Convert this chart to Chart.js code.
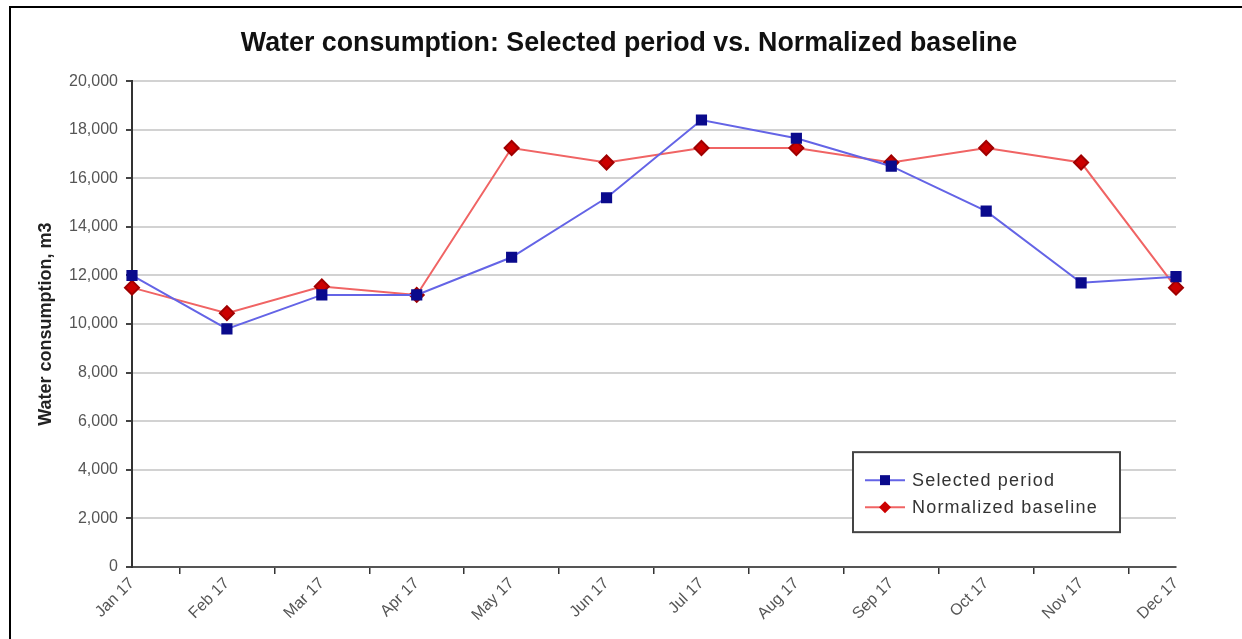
<!DOCTYPE html>
<html>
<head>
<meta charset="utf-8">
<script src="https://cdn.jsdelivr.net/npm/chart.js@4/dist/chart.umd.min.js"></script>
<style>
  html, body { margin: 0; padding: 0; background: #fff; overflow: hidden; }
  #frame { position: absolute; left: 9px; top: 6px; width: 1300px; height: 700px;
           border-top: 2px solid #000; border-left: 2px solid #000; }
  #chart { position: absolute; left: 0; top: 0; }
</style>
</head>
<body>
<div id="frame"></div>
<canvas id="chart" width="1242" height="639"></canvas>
<script>
const months = ["Jan 17", "Feb 17", "Mar 17", "Apr 17", "May 17", "Jun 17",
                "Jul 17", "Aug 17", "Sep 17", "Oct 17", "Nov 17", "Dec 17"];
const selectedPeriod = [12000, 9800, 11200, 11200, 12750, 15200, 18400, 17650, 16500, 14650, 11700, 11950];
const normalizedBaseline = [11500, 10450, 11550, 11200, 17250, 16650, 17250, 17250, 16650, 17250, 16650, 11500];
const yTicks = [0, 2000, 4000, 6000, 8000, 10000, 12000, 14000, 16000, 18000, 20000];

const font = "'Liberation Sans', Arial, sans-serif";

// legend box drawn inside the plot area, bottom right
const boxLegend = {
  id: "boxLegend",
  afterDraw(chart) {
    const ctx = chart.ctx;
    const area = chart.chartArea;
    const x = area.right - 323, y = area.top + 371, w = 267, h = 80;
    ctx.save();
    ctx.fillStyle = "#fff";
    ctx.fillRect(x, y, w, h);
    ctx.strokeStyle = "#444";
    ctx.lineWidth = 2;
    ctx.strokeRect(x, y, w, h);
    ctx.font = "18px " + font;
    ctx.letterSpacing = "1.2px";
    ctx.textBaseline = "middle";
    chart.data.datasets.forEach((ds, i) => {
      const ly = y + 28 + i * 27;
      ctx.strokeStyle = ds.borderColor;
      ctx.lineWidth = 2;
      ctx.beginPath();
      ctx.moveTo(x + 12, ly);
      ctx.lineTo(x + 52, ly);
      ctx.stroke();
      ctx.fillStyle = ds.pointBackgroundColor;
      ctx.beginPath();
      if (ds.pointStyle === "rect") {
        ctx.rect(x + 27, ly - 5, 10, 10);
      } else {
        ctx.moveTo(x + 32, ly - 6);
        ctx.lineTo(x + 38, ly);
        ctx.lineTo(x + 32, ly + 6);
        ctx.lineTo(x + 26, ly);
        ctx.closePath();
      }
      ctx.fill();
      ctx.fillStyle = "#333";
      ctx.fillText(ds.label, x + 59, ly + 1);
    });
    ctx.restore();
  }
};

new Chart(document.getElementById("chart"), {
  type: "line",
  data: {
    labels: months,
    datasets: [
      {
        label: "Selected period",
        data: selectedPeriod,
        borderColor: "#6464e6",
        borderWidth: 2,
        pointStyle: "rect",
        pointRadius: 6.5,
        pointBackgroundColor: "#0a0a8c",
        pointBorderColor: "#0a0a8c",
        tension: 0,
      },
      {
        label: "Normalized baseline",
        data: normalizedBaseline,
        borderColor: "#f06464",
        borderWidth: 2,
        pointStyle: "rectRot",
        pointRadius: 7,
        pointBackgroundColor: "#cc0000",
        pointBorderColor: "#a00000",
        tension: 0,
      },
    ],
  },
  options: {
    responsive: false,
    animation: false,
    layout: { padding: { left: 16, right: 0, top: 0, bottom: 0 } },
    plugins: {
      legend: { display: false },
      tooltip: { enabled: false },
      title: {
        display: true,
        text: "Water consumption: Selected period vs. Normalized baseline",
        color: "#111",
        font: { family: font, size: 26.8, weight: "bold" },
        padding: { top: 28, bottom: 21 },
      },
    },
    scales: {
      x: {
        offset: false,
        grid: { display: true, offset: true, drawOnChartArea: false, tickLength: 7, color: "#333", lineWidth: 1.5 },
        border: { color: "#555", width: 2 },
        ticks: { color: "#555", font: { family: font, size: 16 }, minRotation: 45, maxRotation: 45, padding: 0 },
        afterFit(s) { s.height = 72; s.paddingRight = 66; },
      },
      y: {
        min: 0,
        max: 20000,
        afterBuildTicks(s) { s.ticks = yTicks.map(v => ({ value: v })); },
        grid: { color: "#d2d2d2", lineWidth: 2, tickLength: 6, tickColor: "#444" },
        border: { color: "#333", width: 2 },
        ticks: {
          color: "#555",
          font: { family: font, size: 16 },
          padding: 8,
          callback: v => v.toLocaleString("en-US"),
        },
        title: {
          display: true,
          text: "Water consumption, m3",
          color: "#222",
          font: { family: font, size: 18, weight: "bold" },
          padding: { top: 19, bottom: 0 },
        },
        afterFit(s) { s.width = 116; },
      },
    },
  },
  plugins: [boxLegend],
});
</script>
</body>
</html>
